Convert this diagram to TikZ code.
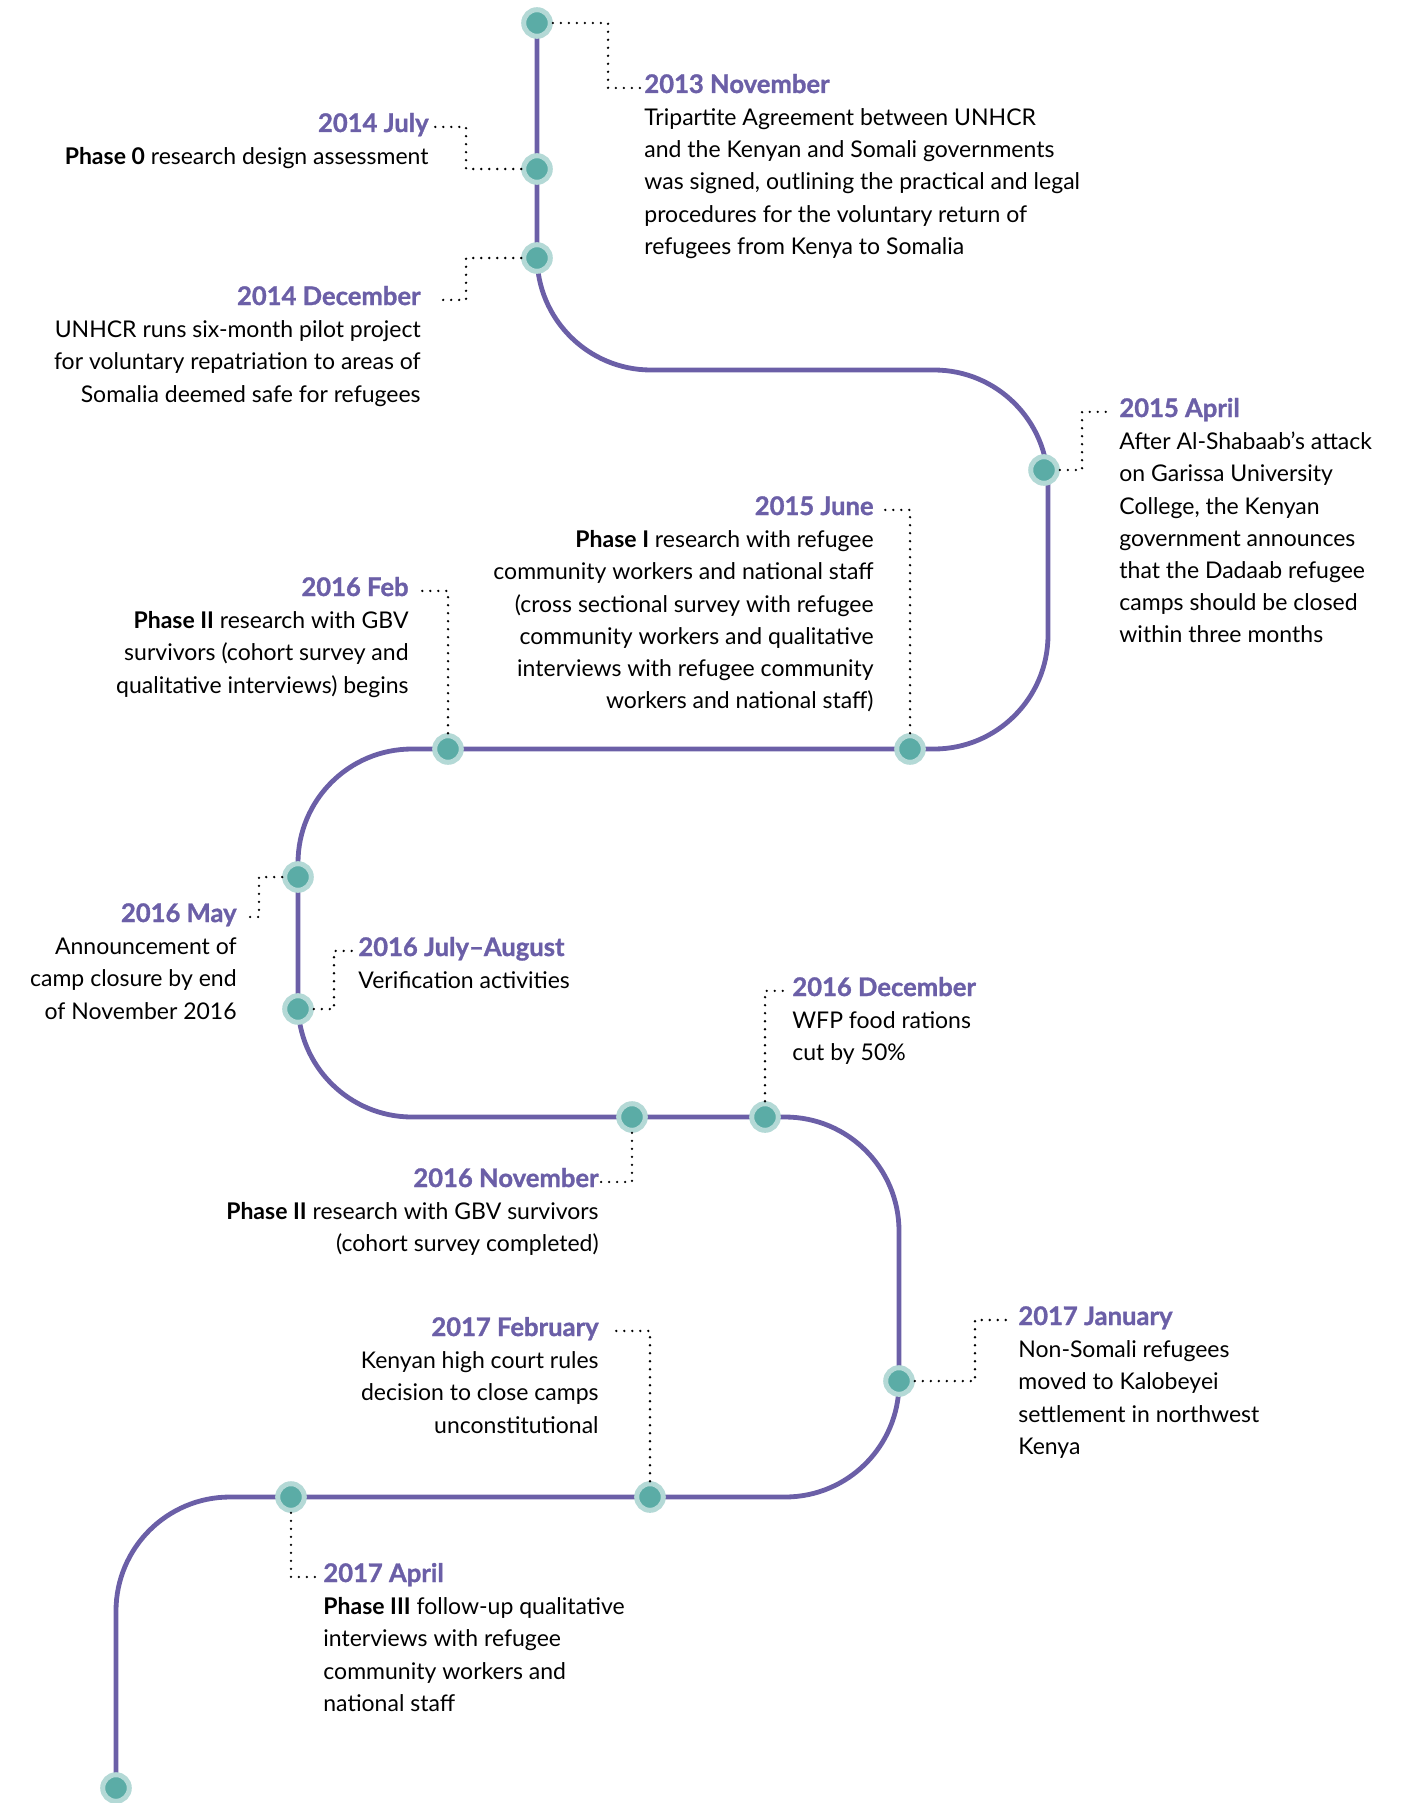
\documentclass[tikz,border=0pt]{standalone}
\usepackage{fontspec}
\setmainfont{Lato}
\usetikzlibrary{positioning,backgrounds}
\definecolor{linepurple}{HTML}{6B5FA7}
\definecolor{dotteal}{HTML}{5BACA6}
\definecolor{ringteal}{HTML}{B4D9D6}
\tikzset{dot node/.style={circle,fill=dotteal,draw=ringteal,line width=2.5pt,minimum size=13.3pt,inner sep=0pt},
  date node/.style={inner sep=0pt,font=\fontsize{12.8}{16.1}\selectfont\bfseries\addfontfeature{FakeBold=1.2},text=linepurple},
  text node/.style={inner sep=0pt,font=\fontsize{11.5}{16.1}\selectfont},
  link/.style={line width=1.3pt,dash pattern=on 0pt off 4pt,line cap=round},
}

\begin{document}
\begin{tikzpicture}[x=0.5pt,y=-0.5pt]
    \useasboundingbox (0,0) rectangle (1405,1803);

    % dots on the timeline
    \node[dot node] (d1)  at (537,23)   {};
    \node[dot node] (d2)  at (537,169)  {};
    \node[dot node] (d3)  at (537,258)  {};
    \node[dot node] (d4)  at (1044,470) {};
    \node[dot node] (d5)  at (910,749)  {};
    \node[dot node] (d6)  at (448,749)  {};
    \node[dot node] (d7)  at (298,877)  {};
    \node[dot node] (d8)  at (298,1009) {};
    \node[dot node] (d9)  at (632,1117) {};
    \node[dot node] (d10) at (765,1117) {};
    \node[dot node] (d11) at (899,1381) {};
    \node[dot node] (d12) at (650,1497) {};
    \node[dot node] (d13) at (291,1497) {};
    \node[dot node] (d14) at (116,1788) {};

    \begin{scope}[on background layer]
    \draw[linepurple,line width=2.4pt,rounded corners=57pt]
    (d1.center) -- (537,370) -- (1048,370) -- (1048,749) -- (298,749) -- (298,1117)
    -- (899,1117) -- (899,1497) -- (116,1497) -- (d14.center);
    \end{scope}

    % dates
    \node[date node,anchor=base west] (t1)  at (644,93)   {2013 November};
    \node[date node,anchor=base east] (t2)  at (429,132)  {2014 July};
    \node[date node,anchor=base east] (t3)  at (421,305)  {2014 December};
    \node[date node,anchor=base west] (t4)  at (1119,417) {2015 April};
    \node[date node,anchor=base east] (t5)  at (874,515)  {2015 June};
    \node[date node,anchor=base east] (t6)  at (409,596)  {2016 Feb};
    \node[date node,anchor=base east] (t7)  at (237,922)  {2016 May};
    \node[date node,anchor=base west] (t8)  at (358,956)  {2016 July–August};
    \node[date node,anchor=base east] (t9)  at (599,1187) {2016 November};
    \node[date node,anchor=base west] (t10) at (792,996)  {2016 December};
    \node[date node,anchor=base west] (t11) at (1018,1325) {2017 January};
    \node[date node,anchor=base east] (t12) at (599,1336) {2017 February};
    \node[date node,anchor=base west] (t13) at (323,1582) {2017 April};

    % texts
    \node[text node,align=left,below=4.83pt of t1.base west,anchor=north west] (b1) {\strut Tripartite Agreement between UNHCR\\and the Kenyan and Somali governments\\was signed, outlining the practical and legal\\procedures for the voluntary return of\\refugees from Kenya to Somalia};
    \node[text node,align=right,below=4.83pt of t2.base east,anchor=north east] (b2) {\strut\textbf{Phase 0} research design assessment};
    \node[text node,align=right,below=4.83pt of t3.base east,anchor=north east] (b3) {\strut UNHCR runs six-month pilot project\\for voluntary repatriation to areas of\\Somalia deemed safe for refugees};
    \node[text node,align=left,below=4.83pt of t4.base west,anchor=north west] (b4) {\strut After Al-Shabaab’s attack\\on Garissa University\\College, the Kenyan\\government announces\\that the Dadaab refugee\\camps should be closed\\within three months};
    \node[text node,align=right,below=4.83pt of t5.base east,anchor=north east] (b5) {\strut\textbf{Phase I} research with refugee\\community workers and national staff\\(cross sectional survey with refugee\\community workers and qualitative\\interviews with refugee community\\workers and national staff)};
    \node[text node,align=right,below=4.83pt of t6.base east,anchor=north east] (b6) {\strut\textbf{Phase II} research with GBV\\survivors (cohort survey and\\qualitative interviews) begins};
    \node[text node,align=right,below=4.83pt of t7.base east,anchor=north east] (b7) {\strut Announcement of\\camp closure by end\\of November 2016};
    \node[text node,align=left,below=4.83pt of t8.base west,anchor=north west] (b8) {\strut Verification activities};
    \node[text node,align=right,below=4.83pt of t9.base east,anchor=north east] (b9) {\strut\textbf{Phase II} research with GBV survivors\\(cohort survey completed)};
    \node[text node,align=left,below=4.83pt of t10.base west,anchor=north west] (b10) {\strut WFP food rations\\cut by 50\%};
    \node[text node,align=left,below=4.83pt of t11.base west,anchor=north west] (b11) {\strut Non-Somali refugees\\moved to Kalobeyei\\settlement in northwest\\Kenya};
    \node[text node,align=right,below=4.83pt of t12.base east,anchor=north east] (b12) {\strut Kenyan high court rules\\decision to close camps\\unconstitutional};
    \node[text node,align=left,below=4.83pt of t13.base west,anchor=north west] (b13) {\strut\textbf{Phase III} follow-up qualitative\\interviews with refugee\\community workers and\\national staff};

    % dotted links
    \coordinate (k1)  at (608,23);
    \coordinate (k2)  at (466,169);
    \coordinate (k3)  at (466,258);
    \coordinate (k4)  at (1082,470);
    \coordinate (k7)  at (259,877);
    \coordinate (k8)  at (334,1009);
    \coordinate (k11) at (975,1381);
    \draw[link] (d1) -- (k1) |- ([xshift=-2pt]t1.mid west);
    \draw[link] (d2) -- (k2) |- ([xshift=3pt]t2.mid east);
    \draw[link] (d3) -- (k3) |- ([xshift=8pt]t3.mid east);
    \draw[link] (d4) -- (k4) |- ([xshift=-3pt]t4.mid west);
    \draw[link] (d5) |- ([xshift=4pt]t5.mid east);
    \draw[link] (d6) |- ([xshift=4pt]t6.mid east);
    \draw[link] (d7) -- (k7) |- ([xshift=4pt]t7.mid east);
    \draw[link] (d8) -- (k8) |- ([xshift=-2pt]t8.mid west);
    \draw[link] (d9) |- ([xshift=1pt]t9.mid east);
    \draw[link] (d10) |- ([xshift=-3pt]t10.mid west);
    \draw[link] (d11) -- (k11) |- ([xshift=-4pt]t11.mid west);
    \draw[link] (d12) |- ([xshift=7pt]t12.mid east);
    \draw[link] (d13) |- ([xshift=-2pt]t13.mid west);
\end{tikzpicture}
\end{document}
